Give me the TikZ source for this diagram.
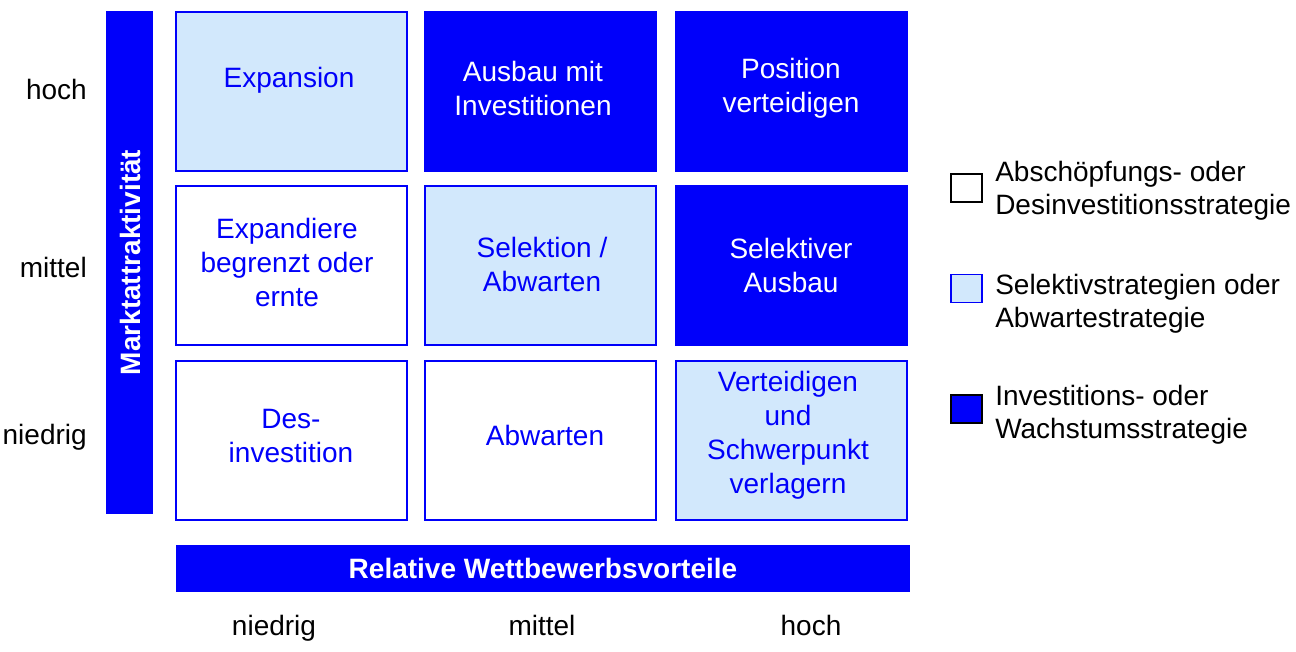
\documentclass[tikz,border=0pt]{standalone}
\usepackage{fontspec}
\setmainfont{Liberation Sans}
\definecolor{strongblue}{RGB}{0,0,250}
\definecolor{paleblue}{RGB}{210,232,252}
\tikzset{
  x=0.75pt, y=-0.75pt,
  cellbox/.style={draw=strongblue, line width=1.3pt, inner sep=0pt,
    minimum width=173.25pt, minimum height=119.25pt},
  lowbox/.style={cellbox, fill=white},
  midbox/.style={cellbox, fill=paleblue},
  highbox/.style={cellbox, fill=strongblue},
  celltext/.style={align=center, font=\fontsize{21}{25.5}\selectfont},
  bluetext/.style={celltext, text=strongblue},
  whitetext/.style={celltext, text=white},
  axisbar/.style={fill=strongblue, inner sep=0pt, text=white,
    font=\fontsize{21}{24}\selectfont\bfseries},
  ticklabel/.style={inner sep=0pt, font=\fontsize{21}{24}\selectfont},
  keybox/.style={draw, line width=1.2pt, inner sep=0pt,
    minimum width=23.25pt, minimum height=21pt},
  keytext/.style={anchor=west, align=left, inner sep=0pt,
    font=\fontsize{21}{24.5}\selectfont}
}
\begin{document}
\begin{tikzpicture}
\useasboundingbox (0,0) rectangle (1296,652);

% vertical axis bar
\node[axisbar, minimum width=35.25pt, minimum height=377.25pt] (vbar) at (129.5,262.5) {};
\node[axisbar, rotate=90, fill=none] (vbartext) at (130,262.5) {Marktattraktivität};

% horizontal axis bar
\node[axisbar, minimum width=550.5pt, minimum height=35.25pt] (hbar) at (543,568.5) {Relative Wettbewerbsvorteile};

% row labels
\node[ticklabel, anchor=base east] (rhoch) at (87,100) {hoch};
\node[ticklabel, anchor=base east] (rmittel) at (87,278) {mittel};
\node[ticklabel, anchor=base east] (rniedrig) at (87,444) {niedrig};

% column labels
\node[ticklabel, anchor=base] (cniedrig) at (274,635) {niedrig};
\node[ticklabel, anchor=base] (cmittel) at (542,635) {mittel};
\node[ticklabel, anchor=base] (choch) at (811,635) {hoch};

% matrix cells: top row
\node[midbox] (c11) at (291.5,91.5) {};
\node[highbox] (c12) at (540.5,91.5) {};
\node[highbox] (c13) at (791.5,91.5) {};
% middle row
\node[lowbox] (c21) at (291.5,265.5) {};
\node[midbox] (c22) at (540.5,265.5) {};
\node[highbox] (c23) at (791.5,265.5) {};
% bottom row
\node[lowbox] (c31) at (291.5,440.5) {};
\node[lowbox] (c32) at (540.5,440.5) {};
\node[midbox] (c33) at (791.5,440.5) {};

% cell texts
\node[bluetext] (t11) at (289,80) {Expansion};
\node[whitetext] (t12) at (533,88) {Ausbau mit\\Investitionen};
\node[whitetext] (t13) at (791,88) {Position\\verteidigen};
\node[bluetext] (t21) at (287,262) {Expandiere\\begrenzt oder\\ernte};
\node[bluetext] (t22) at (542,264) {Selektion /\\Abwarten};
\node[whitetext] (t23) at (791,265) {Selektiver\\Ausbau};
\node[bluetext] (t31) at (291,436) {Des-\\investition};
\node[bluetext] (t32) at (545,435) {Abwarten};
\node[bluetext] (t33) at (788,435) {Verteidigen\\und\\Schwerpunkt\\verlagern};

% legend
\node[keybox, draw=black, fill=white] (k1) at (966.5,188) {};
\node[keybox, draw=strongblue, fill=paleblue] (k2) at (966.5,288.5) {};
\node[keybox, draw=black, fill=strongblue] (k3) at (966.5,409) {};
\node[keytext] (k1t) at (995,191) {Abschöpfungs- oder\\Desinvestitionsstrategie};
\node[keytext] (k2t) at (995,304) {Selektivstrategien oder\\Abwartestrategie};
\node[keytext] (k3t) at (995,415) {Investitions- oder\\Wachstumsstrategie};
\end{tikzpicture}
\end{document}
